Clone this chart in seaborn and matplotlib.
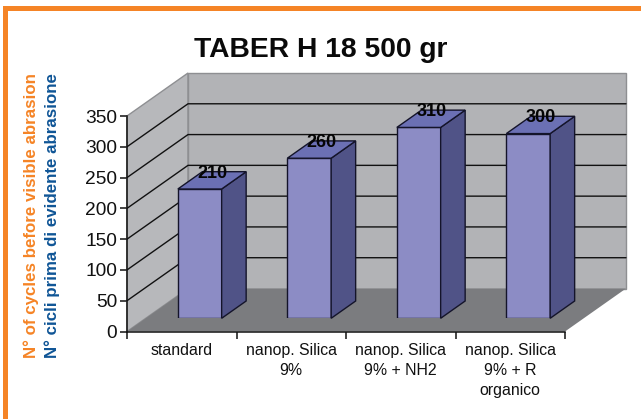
import matplotlib
matplotlib.use("Agg")
import matplotlib.pyplot as plt
from matplotlib.patches import Polygon, Rectangle
import pandas as pd
import seaborn as sns

samples = ["standard", "nanop. Silica\n9%", "nanop. Silica\n9% + NH2", "nanop. Silica\n9% + R\norganico"]
cycles = [210, 260, 310, 300]
y_ticks = [0, 50, 100, 150, 200, 250, 300, 350]
title = "TABER H 18 500 gr"
label_en = "N° of cycles before visible abrasion"
label_it = "N° cicli prima di evidente abrasione"

W, H = 641, 419
sns.set_style("white")
plt.rcParams["font.family"] = ["Liberation Sans", "DejaVu Sans"]


def box(x0, ytop, x1, ybot):
    # pixel box to figure fractions
    return [x0 / W, 1 - ybot / H, (x1 - x0) / W, (ybot - ytop) / H]


fig = plt.figure(figsize=(W / 100, H / 100), dpi=100, facecolor="white")

# orange frame
fig.add_artist(Rectangle((3 / W, 0), 5 / W, 1 - 6 / H, transform=fig.transFigure, color="#F58426", lw=0))
fig.add_artist(Rectangle((3 / W, 1 - 11 / H), 1 - 3 / W, 5 / H, transform=fig.transFigure, color="#F58426", lw=0))

# front plane of the fake 3d box
ax = fig.add_axes(box(127, 116, 565, 331.5))
ax.set_facecolor("none")
ax.set_xlim(-0.5, 3.5)
ax.set_ylim(0, 350)
depth_x = 61 / 109.5
depth_y = 43 / (215.5 / 350)

left = [(-0.5, 0), (-0.5 + depth_x, depth_y), (-0.5 + depth_x, 350 + depth_y), (-0.5, 350)]
back = [(-0.5 + depth_x, depth_y), (3.5 + depth_x, depth_y), (3.5 + depth_x, 350 + depth_y), (-0.5 + depth_x, 350 + depth_y)]
floor = [(-0.5, 0), (3.5, 0), (3.5 + depth_x, depth_y), (-0.5 + depth_x, depth_y)]
ax.add_patch(Polygon(left, fc="#B7B8BB", ec="#8E8F92", lw=1, clip_on=False, zorder=1))
ax.add_patch(Polygon(back, fc="#B2B3B6", ec="#8E8F92", lw=1, clip_on=False, zorder=1))
ax.add_patch(Polygon(floor, fc="#7B7C7F", ec="none", clip_on=False, zorder=1.5))
for v in y_ticks[1:-1]:
    ax.plot([-0.5, -0.5 + depth_x, 3.5 + depth_x], [v, v + depth_y, v + depth_y],
            color="#111111", lw=1, clip_on=False, zorder=1.2)

sns.despine(ax=ax, top=True, right=True)
ax.spines["left"].set(color="#111111", lw=1.1, zorder=3)
ax.spines["bottom"].set(color="#111111", lw=1.1, zorder=3)
ax.set_yticks(y_ticks)
ax.set_xticks([-0.5, 0.5, 1.5, 2.5, 3.5])
ax.set_xticklabels([])
ax.set_xticks(range(len(samples)), labels=samples, minor=True)
ax.tick_params(axis="y", left=True, length=5, width=1.1, color="#111111", labelsize=13.8, pad=2, labelcolor="#111111")
ax.tick_params(axis="x", which="major", bottom=True, length=5, width=1.1, color="#111111")
ax.tick_params(axis="x", which="minor", bottom=False, length=0, labelsize=11.4, pad=8, labelcolor="#111111")
for t in ax.get_xticklabels(minor=True):
    t.set_linespacing(1.42)
ax.set_xlabel("")
ax.set_ylabel("")

# bars stand on the floor, so their axes sits a bit back from the front plane
bar_ax = fig.add_axes(box(145, 102.8, 583, 318.3))
bar_ax.set_facecolor("none")
df = pd.DataFrame({"sample": samples, "cycles": cycles})
sns.barplot(data=df, x="sample", y="cycles", ax=bar_ax, color="#8C8CC5", saturation=1,
            width=0.4, edgecolor="#14142A", linewidth=1, zorder=3)
bar_ax.set_xlim(-0.5, 3.5)
bar_ax.set_ylim(0, 350)
bar_ax.axis("off")

bar_dx = 24.5 / 109.5
bar_dy = 17.3 / (215.5 / 350)
for bar, value in zip(bar_ax.patches, cycles):
    x0, x1 = bar.get_x(), bar.get_x() + bar.get_width()
    side = [(x1, 0), (x1 + bar_dx, bar_dy), (x1 + bar_dx, value + bar_dy), (x1, value)]
    top = [(x0, value), (x1, value), (x1 + bar_dx, value + bar_dy), (x0 + bar_dx, value + bar_dy)]
    bar_ax.add_patch(Polygon(side, fc="#505387", ec="#14142A", lw=1, clip_on=False, zorder=3))
    bar_ax.add_patch(Polygon(top, fc="#6B70B4", ec="#14142A", lw=1, clip_on=False, zorder=3))
    bar_ax.annotate(str(value), ((x0 + x1) / 2, value), xytext=(9, 11.5), textcoords="offset points",
                    ha="center", va="center", fontsize=13, fontweight="bold", color="#050505",
                    annotation_clip=False, zorder=5)

fig.text(321 / W, 1 - 50 / H, title, ha="center", va="center", fontsize=20.3, fontweight="bold", color="#0A0A0A")
fig.text(31 / W, 1 - 215.5 / H, label_en, rotation=90, ha="center", va="center", fontsize=12.2,
         fontweight="bold", color="#F58426")
fig.text(52 / W, 1 - 215.5 / H, label_it, rotation=90, ha="center", va="center", fontsize=12.2,
         fontweight="bold", color="#0F5596")

fig.savefig("out.png", dpi=100)
